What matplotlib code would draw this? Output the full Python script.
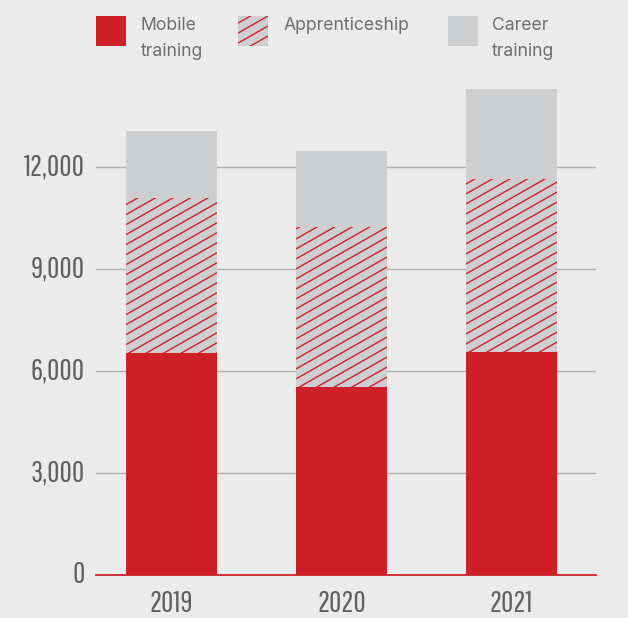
import matplotlib
matplotlib.use("Agg")
import matplotlib.pyplot as plt
import numpy as np
from matplotlib.patches import Rectangle
from matplotlib.collections import LineCollection
from matplotlib.font_manager import FontProperties
from matplotlib.textpath import TextPath
from matplotlib.transforms import ScaledTranslation

# training enrolments per year
years = ["2019", "2020", "2021"]
mobile = [6540, 5530, 6560]
apprenticeship = [4560, 4720, 5090]
career = [1970, 2230, 2650]

series_labels = ["Mobile\ntraining", "Apprenticeship", "Career\ntraining"]
y_ticks = [0, 3000, 6000, 9000, 12000]

BG = "#ebebeb"
RED = "#cf2027"
GREY = "#cdcecf"
TEXT = "#6e6e70"
TICK = "#5f6062"
W, H = 628, 618
NUM_FONT = ["Pathway Gothic One", "DejaVu Sans"]
LEG_FONT = ["Inter", "DejaVu Sans"]


def size_for_width(text, family, px):
    # font size (pt, at 100 dpi) giving the string a set pixel width
    ext = TextPath((0, 0), text, prop=FontProperties(family=family), size=100).get_extents()
    return px * 72 / ext.width


def hatch_segments(x0, y0, x1, y1, spacing=10, slope=0.57):
    # parallel diagonal lines in pixel space covering a box
    segs = []
    c = -slope * (x1 - x0)
    while c < (y1 - y0):
        segs.append([[x0, y0 + c], [x1, y0 + c + slope * (x1 - x0)]])
        c += spacing
    return np.array(segs)


fig = plt.figure(figsize=(W / 100, H / 100), dpi=100, facecolor=BG)
px_per_k = 33.98
ymax = 15000
ax = fig.add_axes([96 / W, 43 / H, 500 / W, ymax / 1000 * px_per_k / H])
ax.set_facecolor(BG)

x = np.arange(len(years))
mobile_a = np.array(mobile)
appr_a = np.array(apprenticeship)
career_a = np.array(career)

width = 0.535
ax.bar(x, mobile_a, width=width, color=RED, zorder=2)
appr_bars = ax.bar(x, appr_a, bottom=mobile_a, width=width, color=GREY, zorder=2)
ax.bar(x, career_a, bottom=mobile_a + appr_a, width=width, color=GREY, zorder=2)

ax.set_xlim(-0.444, 2.497)
ax.set_ylim(0, ymax)
ax.set_yticks(y_ticks)
ax.set_yticklabels([f"{v:,}" for v in y_ticks])
ax.set_xticks(x)
ax.set_xticklabels(years)

ax.yaxis.grid(True, color="#b1b1b1", linewidth=1.0)
ax.set_axisbelow(True)
for side in ["left", "right", "top"]:
    ax.spines[side].set_visible(False)
ax.spines["bottom"].set_color(RED)
ax.spines["bottom"].set_linewidth(1.3)
ax.spines["bottom"].set_zorder(3)

num_size = size_for_width("2019", NUM_FONT, 40.5)
ax.tick_params(axis="both", length=0, colors=TICK)
ax.tick_params(axis="y", pad=8)
ax.tick_params(axis="x", pad=10)
lift = ScaledTranslation(0, 2.5 / 72, fig.dpi_scale_trans)
for lbl in ax.get_yticklabels():
    lbl.set_transform(lbl.get_transform() + lift)
for lbl in ax.get_yticklabels() + ax.get_xticklabels():
    lbl.set_family(NUM_FONT)
    lbl.set_fontsize(num_size)

# hatching on the apprenticeship segments
inv = ax.transData.inverted()
for bar in appr_bars:
    (bx0, by0), (bx1, by1) = ax.transData.transform(
        [[bar.get_x(), bar.get_y()], [bar.get_x() + bar.get_width(), bar.get_y() + bar.get_height()]])
    segs = [inv.transform(s) for s in hatch_segments(bx0, by0, bx1, by1)]
    lc = LineCollection(segs, colors=RED, linewidths=1.0, zorder=2.1)
    ax.add_collection(lc)
    lc.set_clip_path(bar)

# legend: swatches and two-line labels across the top
leg_fill = [RED, GREY, GREY]
box_x = [96, 238, 448]
text_x = [141, 284, 492]
box_top, box_size = 16, 30
baselines = [30.3, 55.7]
leg_size = size_for_width("Mobile", LEG_FONT, 53.7)
fig_inv = fig.transFigure.inverted()
for i, lab in enumerate(series_labels):
    py0 = H - box_top - box_size
    rect = Rectangle((box_x[i] / W, py0 / H), box_size / W, box_size / H,
                     transform=fig.transFigure, facecolor=leg_fill[i], edgecolor="none")
    fig.add_artist(rect)
    if i == 1:
        segs = [fig_inv.transform(s) for s in
                hatch_segments(box_x[i], py0, box_x[i] + box_size, py0 + box_size)]
        lc = LineCollection(segs, colors=RED, linewidths=1.0, transform=fig.transFigure)
        fig.add_artist(lc)
        lc.set_clip_path(rect)
    for line, base in zip(lab.split("\n"), baselines):
        fig.text(text_x[i] / W, 1 - base / H, line, ha="left", va="baseline",
                 color=TEXT, fontsize=leg_size, family=LEG_FONT)

fig.savefig("out.png", dpi=100, facecolor=BG)
